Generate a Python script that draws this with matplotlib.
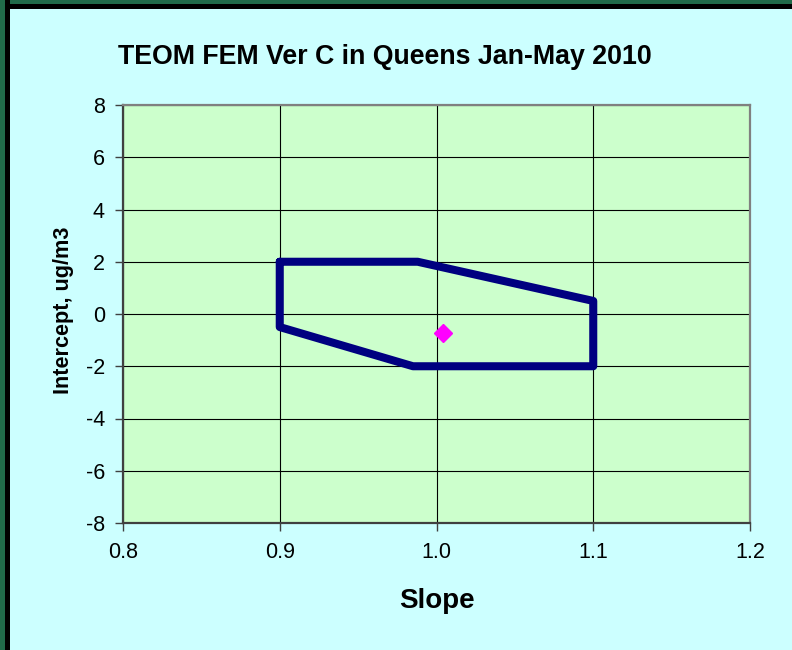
import matplotlib
matplotlib.use("Agg")
import matplotlib.pyplot as plt
from matplotlib.patches import Rectangle

plt.rcParams['font.family'] = ['Liberation Sans', 'DejaVu Sans']
plt.rcParams['axes.unicode_minus'] = False

title = "TEOM FEM Ver C in Queens Jan-May 2010"
xlabel = "Slope"
ylabel = "Intercept, ug/m3"

# acceptance region polygon (slope, intercept)
poly_slope = [0.9, 0.988, 1.1, 1.1, 0.985, 0.9, 0.9]
poly_intercept = [2.0, 2.0, 0.5, -2.0, -2.0, -0.5, 2.0]

# observed point
pt_slope = [1.004]
pt_intercept = [-0.73]

xticks = [0.8, 0.9, 1.0, 1.1, 1.2]
xticklabels = ["0.8", "0.9", "1.0", "1.1", "1.2"]
yticks = [-8, -6, -4, -2, 0, 2, 4, 6, 8]

W, H = 792, 650
fig = plt.figure(figsize=(W / 100, H / 100), dpi=100)
fig.patch.set_facecolor('#CCFFFF')

# frame borders (top and left)
fig.add_artist(Rectangle((0, 1 - 9 / H), 1, 9 / H, transform=fig.transFigure,
                         facecolor='black', edgecolor='none'))
fig.add_artist(Rectangle((0, 1 - 4 / H), 1, 4 / H, transform=fig.transFigure,
                         facecolor='#216B4A', edgecolor='none'))
fig.add_artist(Rectangle((0, 0), 10 / W, 1, transform=fig.transFigure,
                         facecolor='black', edgecolor='none'))
fig.add_artist(Rectangle((0, 0), 5 / W, 1, transform=fig.transFigure,
                         facecolor='#216B4A', edgecolor='none'))

left, right, top, bottom = 123, 750, 105, 523
ax = fig.add_axes([left / W, 1 - bottom / H, (right - left) / W, (bottom - top) / H])
ax.set_facecolor('#CCFFCC')

ax.plot(poly_slope, poly_intercept, color='#000080', linewidth=5.8,
        solid_joinstyle='round', solid_capstyle='round', zorder=3)
ax.plot(pt_slope, pt_intercept, linestyle='none', marker='D', markersize=9,
        color='#FF00FF', markeredgecolor='#FF00FF', zorder=4)

ax.set_xlim(0.8, 1.2)
ax.set_ylim(-8, 8)
ax.set_xticks(xticks)
ax.set_xticklabels(xticklabels)
ax.set_yticks(yticks)
ax.grid(True, color='black', linewidth=0.8, zorder=1)
ax.set_axisbelow(True)

for s in ['left', 'bottom']:
    ax.spines[s].set_color('#404040')
    ax.spines[s].set_linewidth(1.6)
for s in ['top', 'right']:
    ax.spines[s].set_color('#808080')
    ax.spines[s].set_linewidth(1.6)

ax.tick_params(axis='both', direction='out', length=6, width=1, color='#404040',
               labelsize=15.5)
ax.tick_params(axis='y', pad=7)
ax.tick_params(axis='x', pad=8)

fig.text(385 / W, 1 - 57 / H, title, ha='center', va='center',
         fontsize=19.3, fontweight='bold')
fig.text(437 / W, 1 - 601 / H, xlabel, ha='center', va='center',
         fontsize=20, fontweight='bold')
fig.text(63 / W, 1 - 310 / H, ylabel, ha='center', va='center',
         fontsize=15.6, fontweight='bold', rotation=90)

fig.savefig('out.png', dpi=100, facecolor=fig.get_facecolor())
